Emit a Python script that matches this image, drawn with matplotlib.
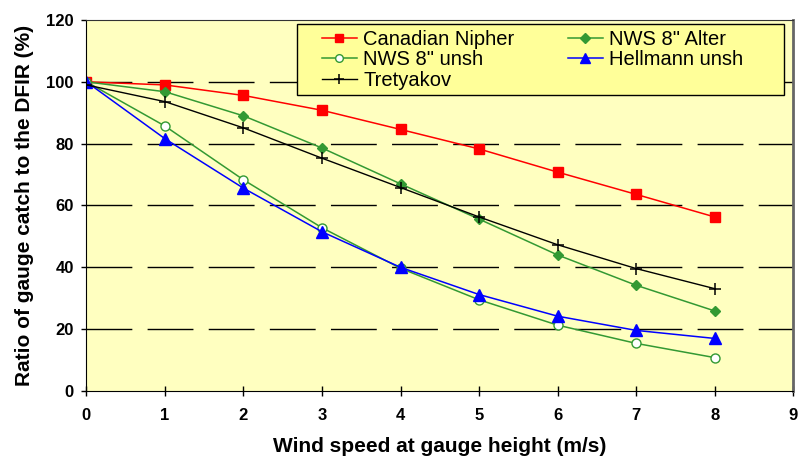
import matplotlib.pyplot as plt
from matplotlib.patches import Rectangle

plt.rcParams['font.family'] = ['Liberation Sans', 'DejaVu Sans']

#wind speed (m/s)
wind = [0, 1, 2, 3, 4, 5, 6, 7, 8]

#catch ratio to DFIR (%)
nipher = [100, 99.0, 95.6, 90.8, 84.6, 78.3, 70.8, 63.6, 56.3]
alter = [100, 96.8, 89.0, 78.6, 67.0, 55.6, 44.0, 34.2, 25.9]
unsh = [100, 85.7, 68.3, 52.8, 39.7, 29.5, 21.3, 15.4, 10.8]
hellmann = [100, 81.6, 65.6, 51.5, 40.0, 31.2, 24.2, 19.6, 17.0]
tretyakov = [99, 93.6, 85.1, 75.3, 65.8, 56.3, 47.3, 39.6, 33.1]

labels = ['Canadian Nipher', 'NWS 8" Alter', 'NWS 8" unsh', 'Hellmann unsh', 'Tretyakov']

fig = plt.figure(figsize = (8, 4.62), dpi = 100)
ax = fig.add_axes([0.108, 0.1537, 0.8835, 0.803])
ax.set_facecolor('#FFFFC0')

l1, = ax.plot(wind, nipher, color = '#FF0000', lw = 1.1, marker = 's', ms = 7, mfc = '#FF0000', mec = '#FF0000')
l2, = ax.plot(wind, alter, color = '#339933', lw = 1.1, marker = 'D', ms = 5.5, mfc = '#339933', mec = '#339933')
l3, = ax.plot(wind, unsh, color = '#339933', lw = 1.1, marker = 'o', ms = 6.5, mfc = 'white', mec = '#339933')
l4, = ax.plot(wind, hellmann, color = '#0000FF', lw = 1.1, marker = '^', ms = 8, mfc = '#0000FF', mec = '#0000FF')
l5, = ax.plot(wind, tretyakov, color = 'black', lw = 1.0, marker = '+', ms = 9, mew = 1.1)

ax.set_xlim(0, 9)
ax.set_ylim(0, 120)
ax.set_xticks(range(0, 10))
ax.set_yticks(range(0, 121, 20))
for yv in range(20, 101, 20):
    ax.axhline(yv, color = 'black', lw = 1.0, dashes = (33, 11), zorder = 0.5)

ax.tick_params(axis = 'x', direction = 'inout', length = 7.2, width = 1, labelsize = 12, pad = 9)
ax.tick_params(axis = 'y', direction = 'out', length = 3.6, width = 1, labelsize = 12, pad = 5.5)
for lab in ax.get_xticklabels() + ax.get_yticklabels():
    lab.set_fontweight('bold')

ax.spines['left'].set_color('black')
ax.spines['bottom'].set_color('black')
ax.spines['top'].set_color('#333333')
ax.spines['right'].set_color('#666666')
ax.spines['right'].set_linewidth(2)

ax.set_xlabel('Wind speed at gauge height (m/s)', fontsize = 15, fontweight = 'bold', labelpad = 10)
ax.set_ylabel('Ratio of gauge catch to the DFIR (%)', fontsize = 15, fontweight = 'bold', labelpad = 9)

#legend box drawn separately so the padding matches
box = Rectangle((0.298, 0.798), 0.689, 0.191, transform = ax.transAxes, facecolor = '#FFFF99',
                edgecolor = 'black', lw = 1, zorder = 4)
ax.add_patch(box)

#legend filled row-wise like the original
handles = [l1, l3, l5, l2, l4]
names = [labels[0], labels[2], labels[4], labels[1], labels[3]]
leg = ax.legend(handles, names, ncol = 2, loc = 'upper left', bbox_to_anchor = (0.333, 0.974),
                fontsize = 14.5, frameon = False, handlelength = 1.75, borderaxespad = 0, borderpad = 0,
                labelspacing = 0.08, columnspacing = 2.65, handletextpad = 0.3, markerscale = 0.85)
leg.set_zorder(5)

plt.savefig('out.png', dpi = 100)
